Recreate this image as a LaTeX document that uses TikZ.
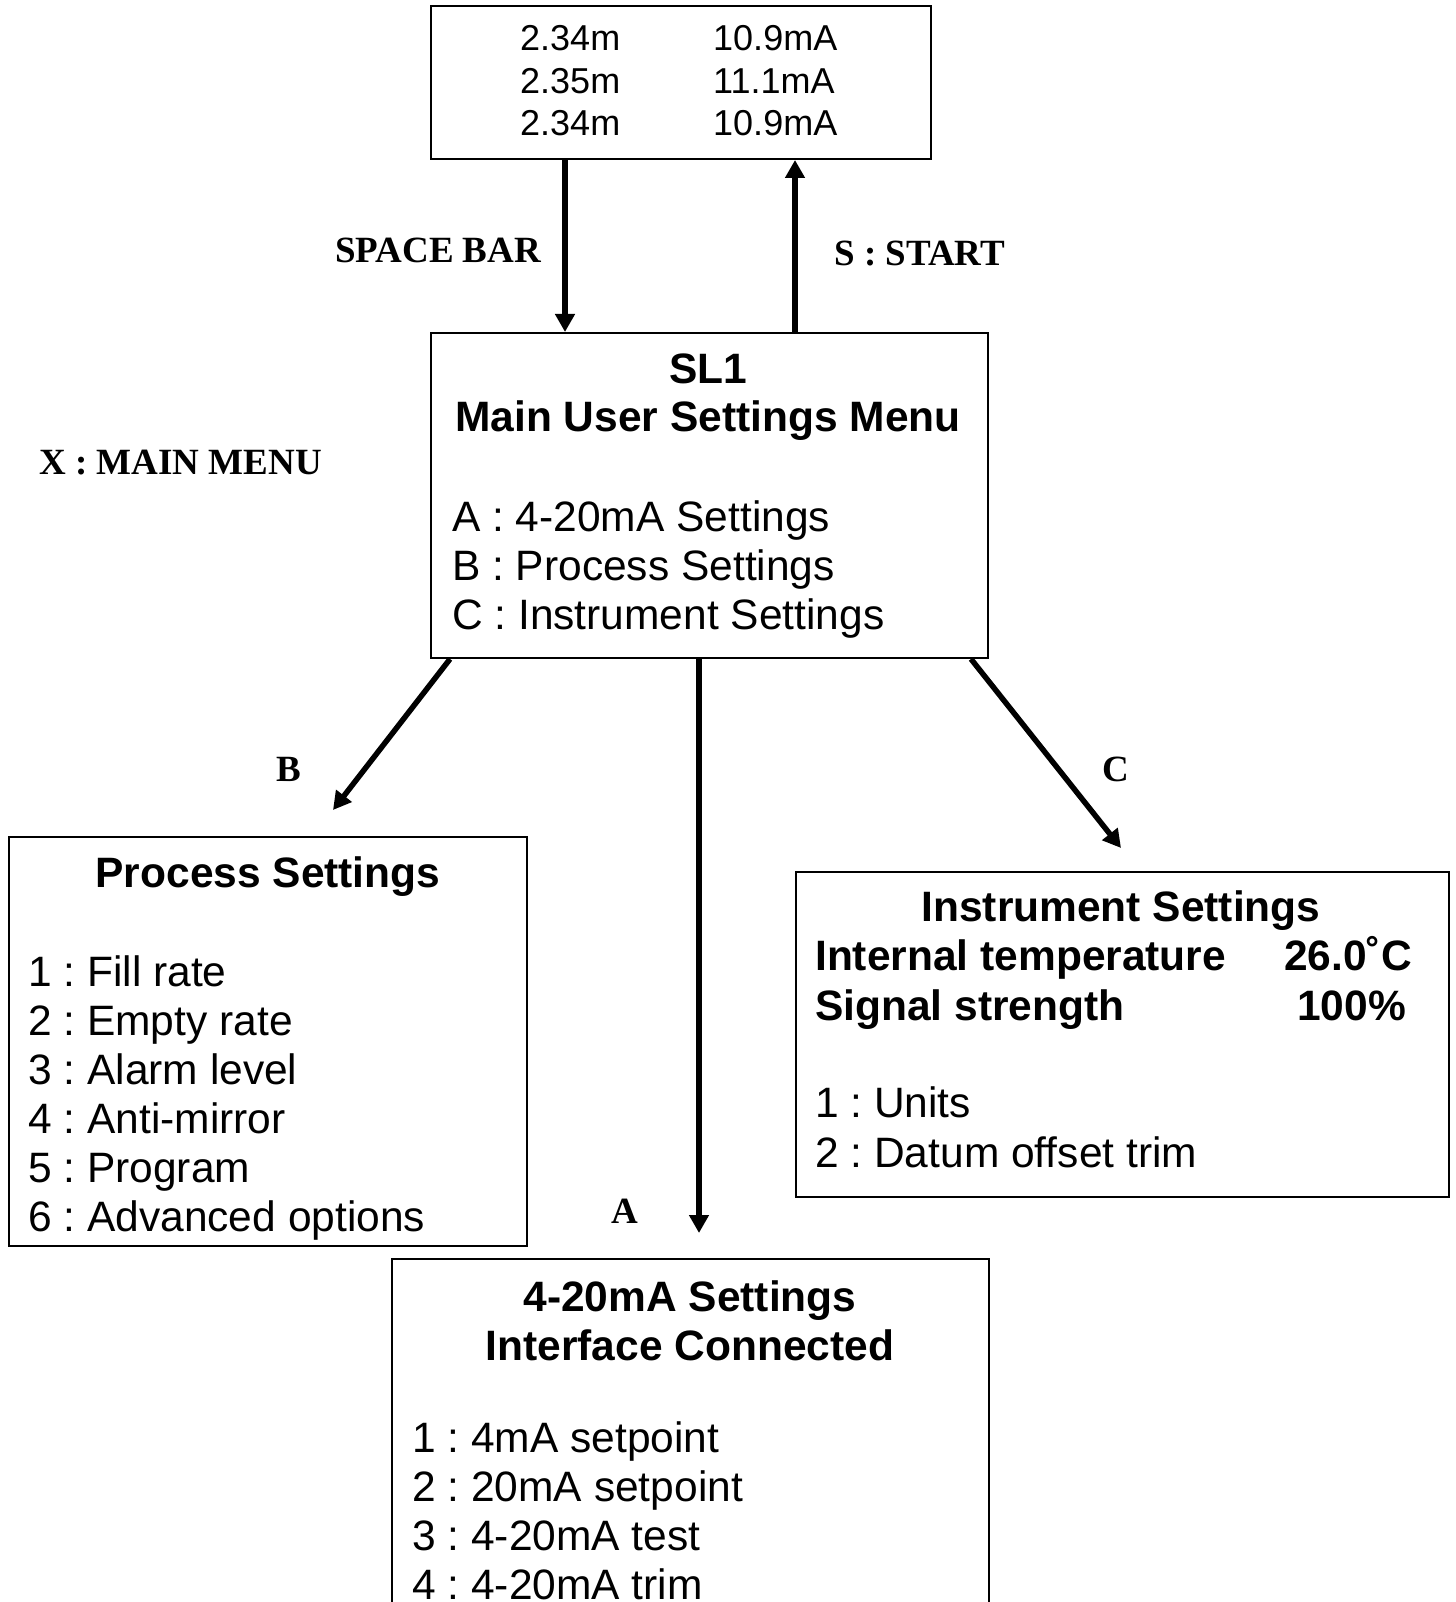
\documentclass[tikz,border=0pt]{standalone}
\usepackage{fontspec}
\setmainfont{Liberation Sans}
\newfontfamily\serifbf{Liberation Serif}
\usetikzlibrary{arrows.meta,calc}
\frenchspacing
\begin{document}
\begin{tikzpicture}[x=1pt,y=-1pt,
  box/.style={draw, line width=2pt, rectangle, inner sep=0, anchor=north west},
  conn/.style={line width=5.5pt, -{Triangle[length=18pt,width=19pt]}},
  txt/.style={inner sep=0, anchor=base west, font=\fontsize{42.5}{49}\selectfont},
  ttl/.style={inner sep=0, anchor=base, font=\fontsize{42.5}{49}\selectfont\bfseries},
  btxt/.style={inner sep=0, anchor=base west, font=\fontsize{42.5}{49}\selectfont\bfseries},
  val/.style={inner sep=0, anchor=base west, font=\fontsize{36}{41}\selectfont},
  lab/.style={inner sep=0, anchor=base west, font=\serifbf\bfseries\fontsize{37}{40}\selectfont},
  clab/.style={inner sep=0, anchor=base, font=\serifbf\bfseries\fontsize{37}{40}\selectfont}
]
\useasboundingbox (0,0) rectangle (1455,1602);
\fill[white] (0,0) rectangle (1455,1602);

% boxes
\node[box, minimum width=500pt, minimum height=153pt] (top) at (430,5) {};
\node[box, minimum width=557pt, minimum height=325pt] (main) at (430,332) {};
\node[box, minimum width=518pt, minimum height=409pt] (proc) at (8,836) {};
\node[box, minimum width=653pt, minimum height=325pt] (inst) at (795,871) {};
\node[box, draw=none, minimum width=595pt, minimum height=346pt] (ma) at (392,1259) {};
\draw[line width=2pt] (ma.south west) -- (ma.north west) -- (ma.north east) -- (ma.south east);

% top box values
\node[val] (v1a) at (520,51) {2.34m};
\node[val] (v1b) at (713,51) {10.9mA};
\node[val] (v2a) at (520,93.5) {2.35m};
\node[val] (v2b) at (713,93.5) {11.1mA};
\node[val] (v3a) at (520,136) {2.34m};
\node[val] (v3b) at (713,136) {10.9mA};

% main box
\node[ttl] (m0) at (708,383) {SL1};
\node[ttl] (m1) at (708,431) {Main User Settings Menu};
\node[txt] (mA) at (452,531) {A : 4-20mA Settings};
\node[txt] (mB) at (452,580) {B : Process Settings};
\node[txt] (mC) at (452,629) {C : Instrument Settings};

% process box
\node[ttl] (p0) at (268,887) {Process Settings};
\node[txt] (p1) at (28,986) {1 : Fill rate};
\node[txt] (p2) at (28,1035) {2 : Empty rate};
\node[txt] (p3) at (28,1084) {3 : Alarm level};
\node[txt] (p4) at (28,1133) {4 : Anti-mirror};
\node[txt] (p5) at (28,1182) {5 : Program};
\node[txt] (p6) at (28,1231) {6 : Advanced options};

% instrument box
\node[ttl] (i0) at (1121,921) {Instrument Settings};
\node[btxt] (i1) at (815,970) {Internal temperature};
\node[btxt] (i1v) at (1284,970) {26.0˚C};
\node[btxt] (i2) at (815,1020) {Signal strength};
\node[btxt] (i2v) at (1297,1020) {100\%};
\node[txt] (i3) at (815,1117) {1 : Units};
\node[txt] (i4) at (815,1167) {2 : Datum offset trim};

% 4-20mA box
\node[ttl] (a0) at (690,1311) {4-20mA Settings};
\node[ttl] (a1) at (690,1360) {Interface Connected};
\node[txt] (a2) at (412,1452) {1 : 4mA setpoint};
\node[txt] (a3) at (412,1501) {2 : 20mA setpoint};
\node[txt] (a4) at (412,1550) {3 : 4-20mA test};
\node[txt] (a5) at (412,1599) {4 : 4-20mA trim};

% labels
\node[lab] (lsp) at (335,263) {SPACE BAR};
\node[lab] (lst) at (834,266) {S : START};
\node[lab] (lx) at (39,474) {X : MAIN MENU};
\node[clab] (lb) at (289,781) {B};
\node[clab] (lc) at (1116,781) {C};
\node[clab] (la) at (625,1223) {A};

% connectors
\coordinate (endB) at (333,810);
\coordinate (endA) at (699,1233);
\coordinate (endC) at (1121,848);
\draw[conn] ($(top.south west)+(135,0)$) -- ($(main.north west)+(135,0)$);
\draw[conn] ($(main.north west)+(365,0)$) -- ($(top.south west)+(365,0)$);
\draw[conn] ($(main.south west)+(20,0)$) -- (endB);
\draw[conn] ($(main.south west)+(269,0)$) -- (endA);
\draw[conn] ($(main.south east)+(-18,0)$) -- (endC);
\end{tikzpicture}
\end{document}
